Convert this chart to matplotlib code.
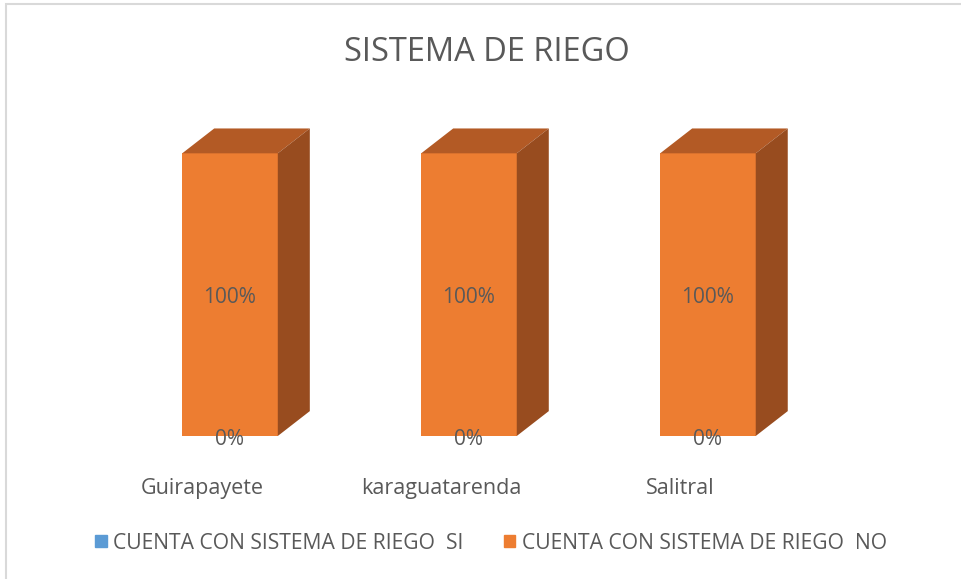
import matplotlib.pyplot as plt
from matplotlib.patches import Polygon, Patch, Rectangle

categories = ["Guirapayete", "karaguatarenda", "Salitral"]
si_values = [0, 0, 0]
no_values = [100, 100, 100]
series_names = ["CUENTA CON SISTEMA DE RIEGO  SI", "CUENTA CON SISTEMA DE RIEGO  NO"]

blue = "#5B9BD5"
orange = "#ED7D31"
top_col = "#B35A25"
side_col = "#984C1F"
grey = "#595959"

plt.rcParams["font.family"] = ["Open Sans", "DejaVu Sans"]

fig = plt.figure(figsize=(9.61, 5.79), dpi=100)
ax = fig.add_axes([0.115, 0.247, 0.746, 0.537])
ax.set_xlim(-0.5, 2.5)
ax.set_ylim(0, 110)
ax.axis("off")

x = list(range(len(categories)))
width = 0.40
dx, dy = 0.134, 8.8  # fake 3D depth

ax.bar(x, si_values, width, color=blue)
ax.bar(x, no_values, width, bottom=si_values, color=orange)

for xi, s, n in zip(x, si_values, no_values):
    l, r = xi - width / 2, xi + width / 2
    top = s + n
    ax.add_patch(Polygon([(l, top), (r, top), (r + dx, top + dy), (l + dx, top + dy)],
                         closed=True, color=top_col, lw=0))
    ax.add_patch(Polygon([(r, s), (r + dx, s + dy), (r + dx, top + dy), (r, top)],
                         closed=True, color=side_col, lw=0))
    ax.text(xi, s + n / 2 - 1.1, f"{n}%", ha="center", va="center", fontsize=15, color=grey)
    ax.text(xi, s - 1.1, f"{s}%", ha="center", va="center", fontsize=15, color=grey)
    ax.text(xi - 0.115, -18.7, categories[xi], ha="center", va="center",
            fontsize=15.5, color=grey, clip_on=False)

fig.text(0.507, 0.91, "SISTEMA DE RIEGO", ha="center", va="center", fontsize=23.5, color=grey)

handles = [Patch(color=blue), Patch(color=orange)]
fig.legend(handles, series_names, loc="center", bbox_to_anchor=(0.511, 0.062),
           ncol=2, frameon=False, fontsize=15.2, labelcolor=grey,
           handlelength=0.55, handleheight=0.55, handletextpad=0.3, columnspacing=1.9)

fig.patches.append(Rectangle((6 / 961, -0.1), 1.2, 1.0 - 4 / 579 + 0.1, transform=fig.transFigure,
                             fill=False, edgecolor="#D9D9D9", lw=1.5))

fig.savefig("out.png", dpi=100)
